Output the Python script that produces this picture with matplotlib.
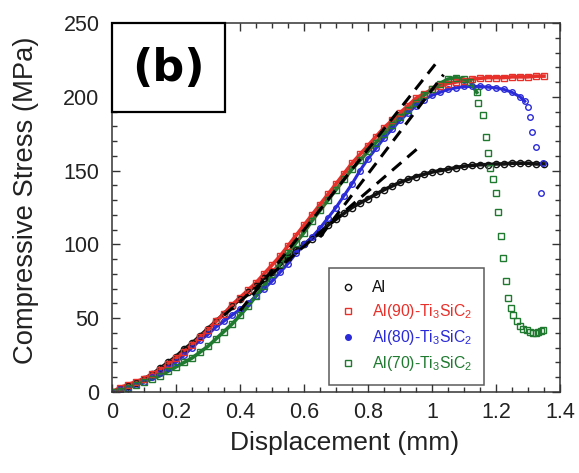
import matplotlib
matplotlib.use("Agg")
import matplotlib.pyplot as plt
from matplotlib.lines import Line2D
from matplotlib.patches import Rectangle
from matplotlib.ticker import MultipleLocator

plt.rcParams['font.family'] = ['Liberation Sans', 'DejaVu Sans']
plt.rcParams['mathtext.fontset'] = 'custom'
plt.rcParams['mathtext.rm'] = 'Liberation Sans'
plt.rcParams['mathtext.it'] = 'Liberation Sans:italic'

# --- data (displacement in mm, stress in MPa) ---
al_x = [0, 0.025, 0.05, 0.075, 0.1, 0.125, 0.15, 0.175, 0.2, 0.225, 0.25, 0.275, 0.3, 0.325,
        0.35, 0.375, 0.4, 0.425, 0.45, 0.475, 0.5, 0.525, 0.55, 0.575, 0.6, 0.625, 0.65, 0.675,
        0.7, 0.725, 0.75, 0.775, 0.8, 0.825, 0.85, 0.875, 0.9, 0.925, 0.95, 0.975, 1.0, 1.025,
        1.05, 1.075, 1.1, 1.125, 1.15, 1.175, 1.2, 1.225, 1.25, 1.275, 1.3, 1.325, 1.35]
al_y = [0, 2, 4, 6, 9, 12, 16, 20, 24, 29, 33, 38, 43, 48,
        53, 58, 63, 68, 72, 77, 81, 86, 91, 96, 100, 104, 108, 113,
        117, 121, 125, 128, 131, 134, 137, 139.5, 142, 144, 146, 147.5, 149, 150,
        151, 152, 153, 153.5, 154, 154, 154.5, 154.5, 155, 155, 155, 154.5, 154.5]

al90_x = al_x
al90_y = [0, 3, 5, 7, 9, 12, 15, 19, 23, 27, 32, 37, 42, 48,
          53, 59, 64, 69, 74, 80, 86, 92, 99, 106, 113, 120, 127, 134,
          141, 148, 155, 161, 167, 173, 179, 184, 189, 194, 199, 202, 205, 207,
          209, 210, 211, 212, 212.5, 213, 213, 213, 213.5, 213.5, 213.5, 214, 214]

al80_x = [0, 0.025, 0.05, 0.075, 0.1, 0.125, 0.15, 0.175, 0.2, 0.225, 0.25, 0.275, 0.3, 0.325,
          0.35, 0.375, 0.4, 0.425, 0.45, 0.475, 0.5, 0.525, 0.55, 0.575, 0.6, 0.625, 0.65, 0.675,
          0.7, 0.725, 0.75, 0.775, 0.8, 0.825, 0.85, 0.875, 0.9, 0.925, 0.95, 0.975, 1.0, 1.025,
          1.05, 1.075, 1.1, 1.125, 1.15, 1.175, 1.2, 1.225, 1.25, 1.275, 1.29,
          1.30, 1.306, 1.314, 1.325, 1.348, 1.341]
al80_y = [0, 2, 3, 5, 7, 10, 13, 16, 20, 25, 30, 35, 39, 44,
          48, 52, 56, 60, 65, 70, 75, 81, 87, 94, 100, 105, 111, 118,
          125, 133, 141, 150, 158, 165, 172, 178, 184, 189, 194, 198, 201, 203,
          205, 206, 207, 207, 207, 206.5, 206, 205, 203, 200, 197,
          193, 186, 176, 166, 155, 135]
al80_smooth = 53  # points before the fast drop

al70_x = [0, 0.025, 0.05, 0.075, 0.1, 0.125, 0.15, 0.175, 0.2, 0.225, 0.25, 0.275, 0.3, 0.325,
          0.35, 0.375, 0.4, 0.425, 0.45, 0.475, 0.5, 0.525, 0.55, 0.575, 0.6, 0.625, 0.65, 0.675,
          0.7, 0.725, 0.75, 0.775, 0.8, 0.825, 0.85, 0.875, 0.9, 0.925, 0.95, 0.975, 1.0, 1.025,
          1.05, 1.075, 1.1, 1.12, 1.14,
          1.145, 1.160, 1.169, 1.174, 1.181, 1.19, 1.2, 1.207, 1.215, 1.223, 1.23, 1.238, 1.246,
          1.254, 1.265, 1.275, 1.285, 1.296, 1.307, 1.317, 1.325, 1.332, 1.34, 1.348]
al70_y = [0, 1, 3, 5, 7, 9, 11, 14, 17, 20, 23, 27, 31, 36,
          41, 46, 52, 58, 65, 72, 80, 87, 94, 101, 108, 116, 123, 130,
          137, 144, 151, 157, 163, 169, 175, 181, 186, 191, 196, 201, 205, 209,
          212, 213, 212, 210, 203,
          196, 188, 173, 162, 152, 144, 135, 122, 106, 91, 75, 64, 57,
          52, 48, 45, 43, 42, 41, 40, 40, 41, 41.5, 42]
al70_smooth = 47

# straight-line fits (dashed)
fit_a_x, fit_a_y = [0.40, 1.01], [55, 222]
fit_b_x, fit_b_y = [0.65, 1.036], [105, 215]
fit_c_x, fit_c_y = [0.35, 0.955], [52, 165]

labels = ['Al', 'Al(90)-Ti$_3$SiC$_2$', 'Al(80)-Ti$_3$SiC$_2$', 'Al(70)-Ti$_3$SiC$_2$']
colors = ['#111111', '#e8302a', '#2a2ad8', '#1f7a30']

fig = plt.figure(figsize=(5.79, 4.73), dpi=100)
ax = fig.add_axes([0.1934, 0.1712, 0.7738, 0.7802])

# under-lines so the dense marker bands look continuous
ax.plot(al_x, al_y, '-', color=colors[0], lw=2.6)
ax.plot(al80_x[:al80_smooth], al80_y[:al80_smooth], '-', color=colors[2], lw=2.2)
ax.plot(al90_x, al90_y, '-', color=colors[1], lw=2.6)
ax.plot(al70_x[:al70_smooth], al70_y[:al70_smooth], '-', color=colors[3], lw=2.6)

ax.plot(al_x, al_y, 'o', ls='none', mfc='none', mec=colors[0], ms=4.5, mew=1)
ax.plot(al80_x, al80_y, 'o', ls='none', mfc='none', mec=colors[2], ms=4, mew=1)
ax.plot(al90_x, al90_y, 's', ls='none', mfc='none', mec=colors[1], ms=4.5, mew=1)
ax.plot(al70_x, al70_y, 's', ls='none', mfc='none', mec=colors[3], ms=4.5, mew=1)

for fx, fy in [(fit_a_x, fit_a_y), (fit_b_x, fit_b_y), (fit_c_x, fit_c_y)]:
    ax.plot(fx, fy, color='black', lw=2.2, dashes=(4, 2.6), zorder=5)

ax.set_xlim(0, 1.4)
ax.set_ylim(0, 250)
ax.xaxis.set_major_locator(MultipleLocator(0.2))
ax.xaxis.set_minor_locator(MultipleLocator(0.05))
ax.yaxis.set_major_locator(MultipleLocator(50))
ax.yaxis.set_minor_locator(MultipleLocator(10))
ax.set_xticks([0, 0.2, 0.4, 0.6, 0.8, 1.0, 1.2, 1.4])
ax.set_xticklabels(['0', '0.2', '0.4', '0.6', '0.8', '1', '1.2', '1.4'])
ax.tick_params(which='both', direction='in', top=True, right=True, colors='#333333',
               labelcolor='#222222', labelsize=15.5, width=1)
ax.tick_params(axis='x', which='major', length=6, pad=7)
ax.tick_params(axis='y', which='major', length=6, pad=9)
ax.tick_params(which='minor', length=3.5)
for s in ax.spines.values():
    s.set_color('#333333')
    s.set_linewidth(1.1)

ax.set_xlabel('Displacement (mm)', fontsize=19, color='#222222')
ax.xaxis.set_label_coords(0.52, -0.105)
ax.set_ylabel('Compressive Stress (MPa)', fontsize=19.7, color='#222222')
ax.yaxis.set_label_coords(-0.163, 0.52)

# panel tag box
ax.add_patch(Rectangle((0, 0.759), 0.252, 0.241, transform=ax.transAxes, facecolor='white',
                       edgecolor='black', lw=1.6, zorder=6, clip_on=False))
ax.text(0.126, 0.876, '(b)', transform=ax.transAxes, ha='center', va='center',
        fontsize=32, fontweight='bold', family='DejaVu Sans', zorder=7)

handles = [
    Line2D([], [], marker='o', ls='none', mfc='none', mec=colors[0], ms=4.5, mew=1),
    Line2D([], [], marker='s', ls='none', mfc='none', mec=colors[1], ms=4.5, mew=1),
    Line2D([], [], marker='o', ls='none', mfc=colors[2], mec=colors[2], ms=4, mew=1),
    Line2D([], [], marker='s', ls='none', mfc='none', mec=colors[3], ms=4.5, mew=1),
]
leg = ax.legend(handles, labels, loc='lower left', bbox_to_anchor=(0.484, 0.019),
                fontsize=11.3, frameon=True, fancybox=False, edgecolor='#333333',
                handlelength=1.0, handletextpad=1.0, labelspacing=0.45,
                borderpad=0.75, borderaxespad=0)
leg.get_frame().set_linewidth(1.1)
for t, c in zip(leg.get_texts(), colors):
    t.set_color(c)

fig.savefig('out.png', dpi=100, facecolor='white')
